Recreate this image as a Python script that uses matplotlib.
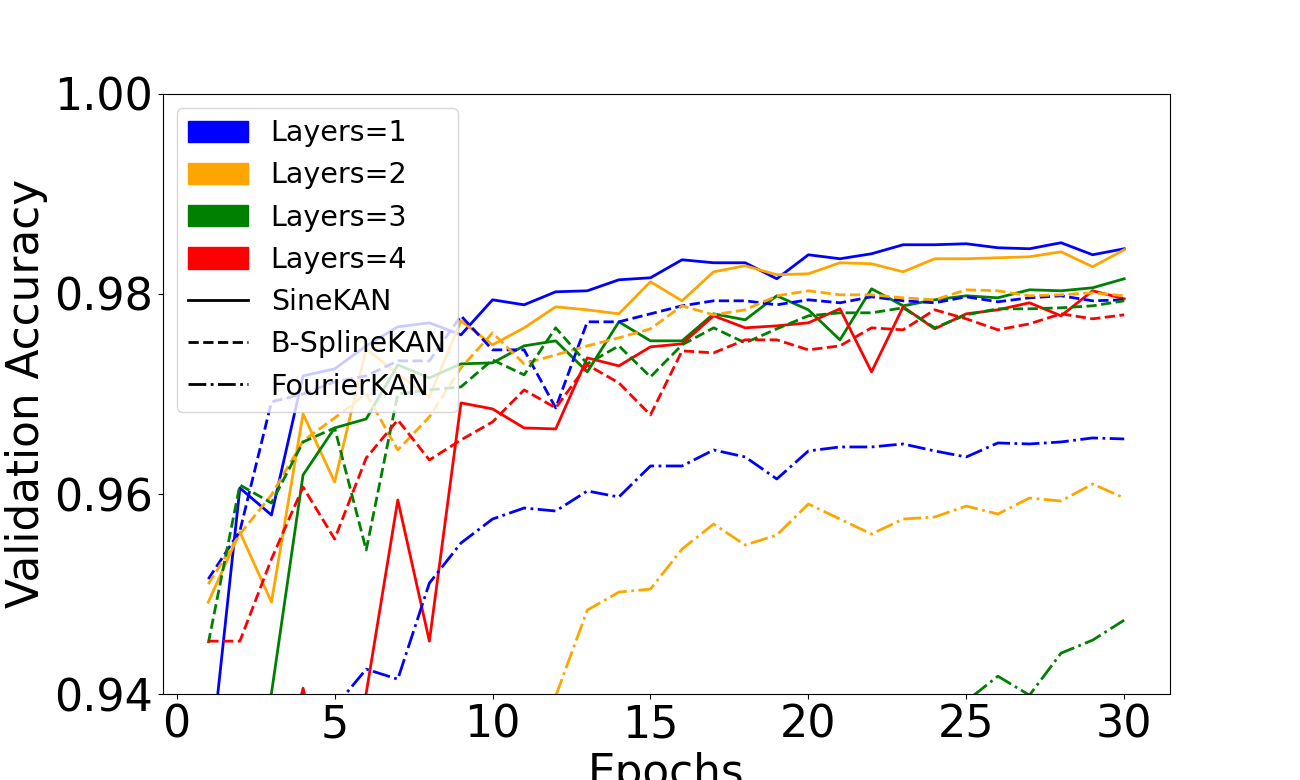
import matplotlib
matplotlib.use("Agg")
import matplotlib.pyplot as plt
from matplotlib.patches import Patch
from matplotlib.lines import Line2D

epochs = list(range(1, 31))

layer_labels = ["Layers=1", "Layers=2", "Layers=3", "Layers=4"]
layer_colors = ["blue", "orange", "green", "red"]
model_labels = ["SineKAN", "B-SplineKAN", "FourierKAN"]
model_styles = ["-", "--", "-."]

# SineKAN
sine_l1 = [0.9312, 0.9606, 0.9579, 0.9718, 0.9725, 0.9748, 0.9767, 0.9771, 0.9759, 0.9794,
           0.9789, 0.9802, 0.9803, 0.9814, 0.9816, 0.9834, 0.9831, 0.9831, 0.9815, 0.9839,
           0.9835, 0.9840, 0.9849, 0.9849, 0.9850, 0.9846, 0.9845, 0.9851, 0.9839, 0.9845]
sine_l2 = [0.9492, 0.9562, 0.9492, 0.9680, 0.9612, 0.9745, 0.9720, 0.9697, 0.9773, 0.9749,
           0.9766, 0.9787, 0.9784, 0.9780, 0.9812, 0.9793, 0.9822, 0.9828, 0.9819, 0.9820,
           0.9831, 0.9830, 0.9822, 0.9835, 0.9835, 0.9836, 0.9837, 0.9842, 0.9827, 0.9844]
sine_l3 = [0.9050, 0.9200, 0.9401, 0.9619, 0.9666, 0.9675, 0.9729, 0.9716, 0.9730, 0.9731,
           0.9748, 0.9753, 0.9722, 0.9772, 0.9753, 0.9753, 0.9780, 0.9774, 0.9798, 0.9784,
           0.9754, 0.9805, 0.9788, 0.9794, 0.9798, 0.9796, 0.9804, 0.9803, 0.9806, 0.9815]
sine_l4 = [0.9000, 0.9050, 0.9100, 0.9200, 0.9250, 0.9401, 0.9594, 0.9453, 0.9691, 0.9685,
           0.9666, 0.9665, 0.9736, 0.9728, 0.9747, 0.9750, 0.9778, 0.9766, 0.9768, 0.9771,
           0.9785, 0.9722, 0.9787, 0.9765, 0.9780, 0.9784, 0.9791, 0.9778, 0.9803, 0.9795]

# B-SplineKAN
spline_l1 = [0.9515, 0.9563, 0.9692, 0.9700, 0.9712, 0.9718, 0.9733, 0.9733, 0.9778, 0.9744,
             0.9744, 0.9686, 0.9772, 0.9772, 0.9780, 0.9788, 0.9793, 0.9793, 0.9789, 0.9794,
             0.9791, 0.9797, 0.9793, 0.9791, 0.9797, 0.9792, 0.9796, 0.9798, 0.9793, 0.9794]
spline_l2 = [0.9510, 0.9560, 0.9599, 0.9653, 0.9676, 0.9700, 0.9644, 0.9677, 0.9726, 0.9761,
             0.9730, 0.9739, 0.9748, 0.9756, 0.9765, 0.9788, 0.9779, 0.9784, 0.9798, 0.9803,
             0.9799, 0.9799, 0.9796, 0.9794, 0.9804, 0.9803, 0.9798, 0.9799, 0.9801, 0.9798]
spline_l3 = [0.9451, 0.9609, 0.9591, 0.9652, 0.9666, 0.9544, 0.9700, 0.9704, 0.9707, 0.9734,
             0.9719, 0.9766, 0.9730, 0.9748, 0.9717, 0.9749, 0.9766, 0.9751, 0.9765, 0.9778,
             0.9781, 0.9781, 0.9786, 0.9766, 0.9779, 0.9785, 0.9785, 0.9786, 0.9788, 0.9793]
spline_l4 = [0.9453, 0.9453, 0.9535, 0.9607, 0.9555, 0.9636, 0.9674, 0.9634, 0.9654, 0.9672,
             0.9704, 0.9686, 0.9729, 0.9711, 0.9679, 0.9743, 0.9741, 0.9754, 0.9754, 0.9744,
             0.9748, 0.9766, 0.9764, 0.9784, 0.9775, 0.9764, 0.9770, 0.9780, 0.9775, 0.9779]

# FourierKAN
fourier_l1 = [0.9220, 0.9260, 0.9300, 0.9340, 0.9387, 0.9425, 0.9415, 0.9511, 0.9551, 0.9575,
              0.9586, 0.9583, 0.9603, 0.9597, 0.9628, 0.9628, 0.9644, 0.9637, 0.9615, 0.9643,
              0.9647, 0.9647, 0.9650, 0.9643, 0.9637, 0.9651, 0.9650, 0.9652, 0.9656, 0.9655]
fourier_l2 = [0.8900, 0.9000, 0.9050, 0.9100, 0.9150, 0.9200, 0.9240, 0.9270, 0.9300, 0.9330,
              0.9360, 0.9398, 0.9484, 0.9502, 0.9505, 0.9545, 0.9570, 0.9549, 0.9559, 0.9590,
              0.9575, 0.9560, 0.9575, 0.9577, 0.9588, 0.9580, 0.9596, 0.9593, 0.9610, 0.9596]
fourier_l3 = [0.8700, 0.8800, 0.8900, 0.8950, 0.9000, 0.9050, 0.9100, 0.9130, 0.9160, 0.9190,
              0.9210, 0.9230, 0.9250, 0.9270, 0.9290, 0.9310, 0.9320, 0.9330, 0.9340, 0.9350,
              0.9360, 0.9370, 0.9375, 0.9380, 0.9393, 0.9418, 0.9399, 0.9441, 0.9454, 0.9474]
fourier_l4 = [0.9150, 0.9220, 0.9270, 0.9406, 0.9270, 0.9290, 0.9300, 0.9310, 0.9320, 0.9330,
              0.9330, 0.9340, 0.9340, 0.9350, 0.9350, 0.9355, 0.9360, 0.9360, 0.9365, 0.9365,
              0.9370, 0.9370, 0.9372, 0.9375, 0.9375, 0.9378, 0.9380, 0.9380, 0.9382, 0.9385]

series = {
    "SineKAN": [sine_l1, sine_l2, sine_l3, sine_l4],
    "B-SplineKAN": [spline_l1, spline_l2, spline_l3, spline_l4],
    "FourierKAN": [fourier_l1, fourier_l2, fourier_l3, fourier_l4],
}

fig = plt.figure(figsize=(13, 7.8), dpi=100)
ax = fig.add_axes([0.125, 0.11, 0.775, 0.77])

for model, style in zip(model_labels, model_styles):
    for vals, color in zip(series[model], layer_colors):
        ax.plot(epochs, vals, linestyle=style, color=color, linewidth=2)

ax.set_ylim(0.94, 1.00)
ax.set_yticks([0.94, 0.96, 0.98, 1.00])
ax.set_xticks([0, 5, 10, 15, 20, 25, 30])
ax.tick_params(axis="both", labelsize=32)
ax.set_xlabel("Epochs", fontsize=31.5)
ax.set_ylabel("Validation Accuracy", fontsize=31.5)

handles = [Patch(color=c, label=l) for c, l in zip(layer_colors, layer_labels)]
handles += [Line2D([0], [0], color="black", linestyle=s, linewidth=2, label=l)
            for s, l in zip(model_styles, model_labels)]
ax.legend(handles=handles, loc="upper left", fontsize=20.5,
          handlelength=2.1, handleheight=0.77)

fig.savefig("out.png", dpi=100)
